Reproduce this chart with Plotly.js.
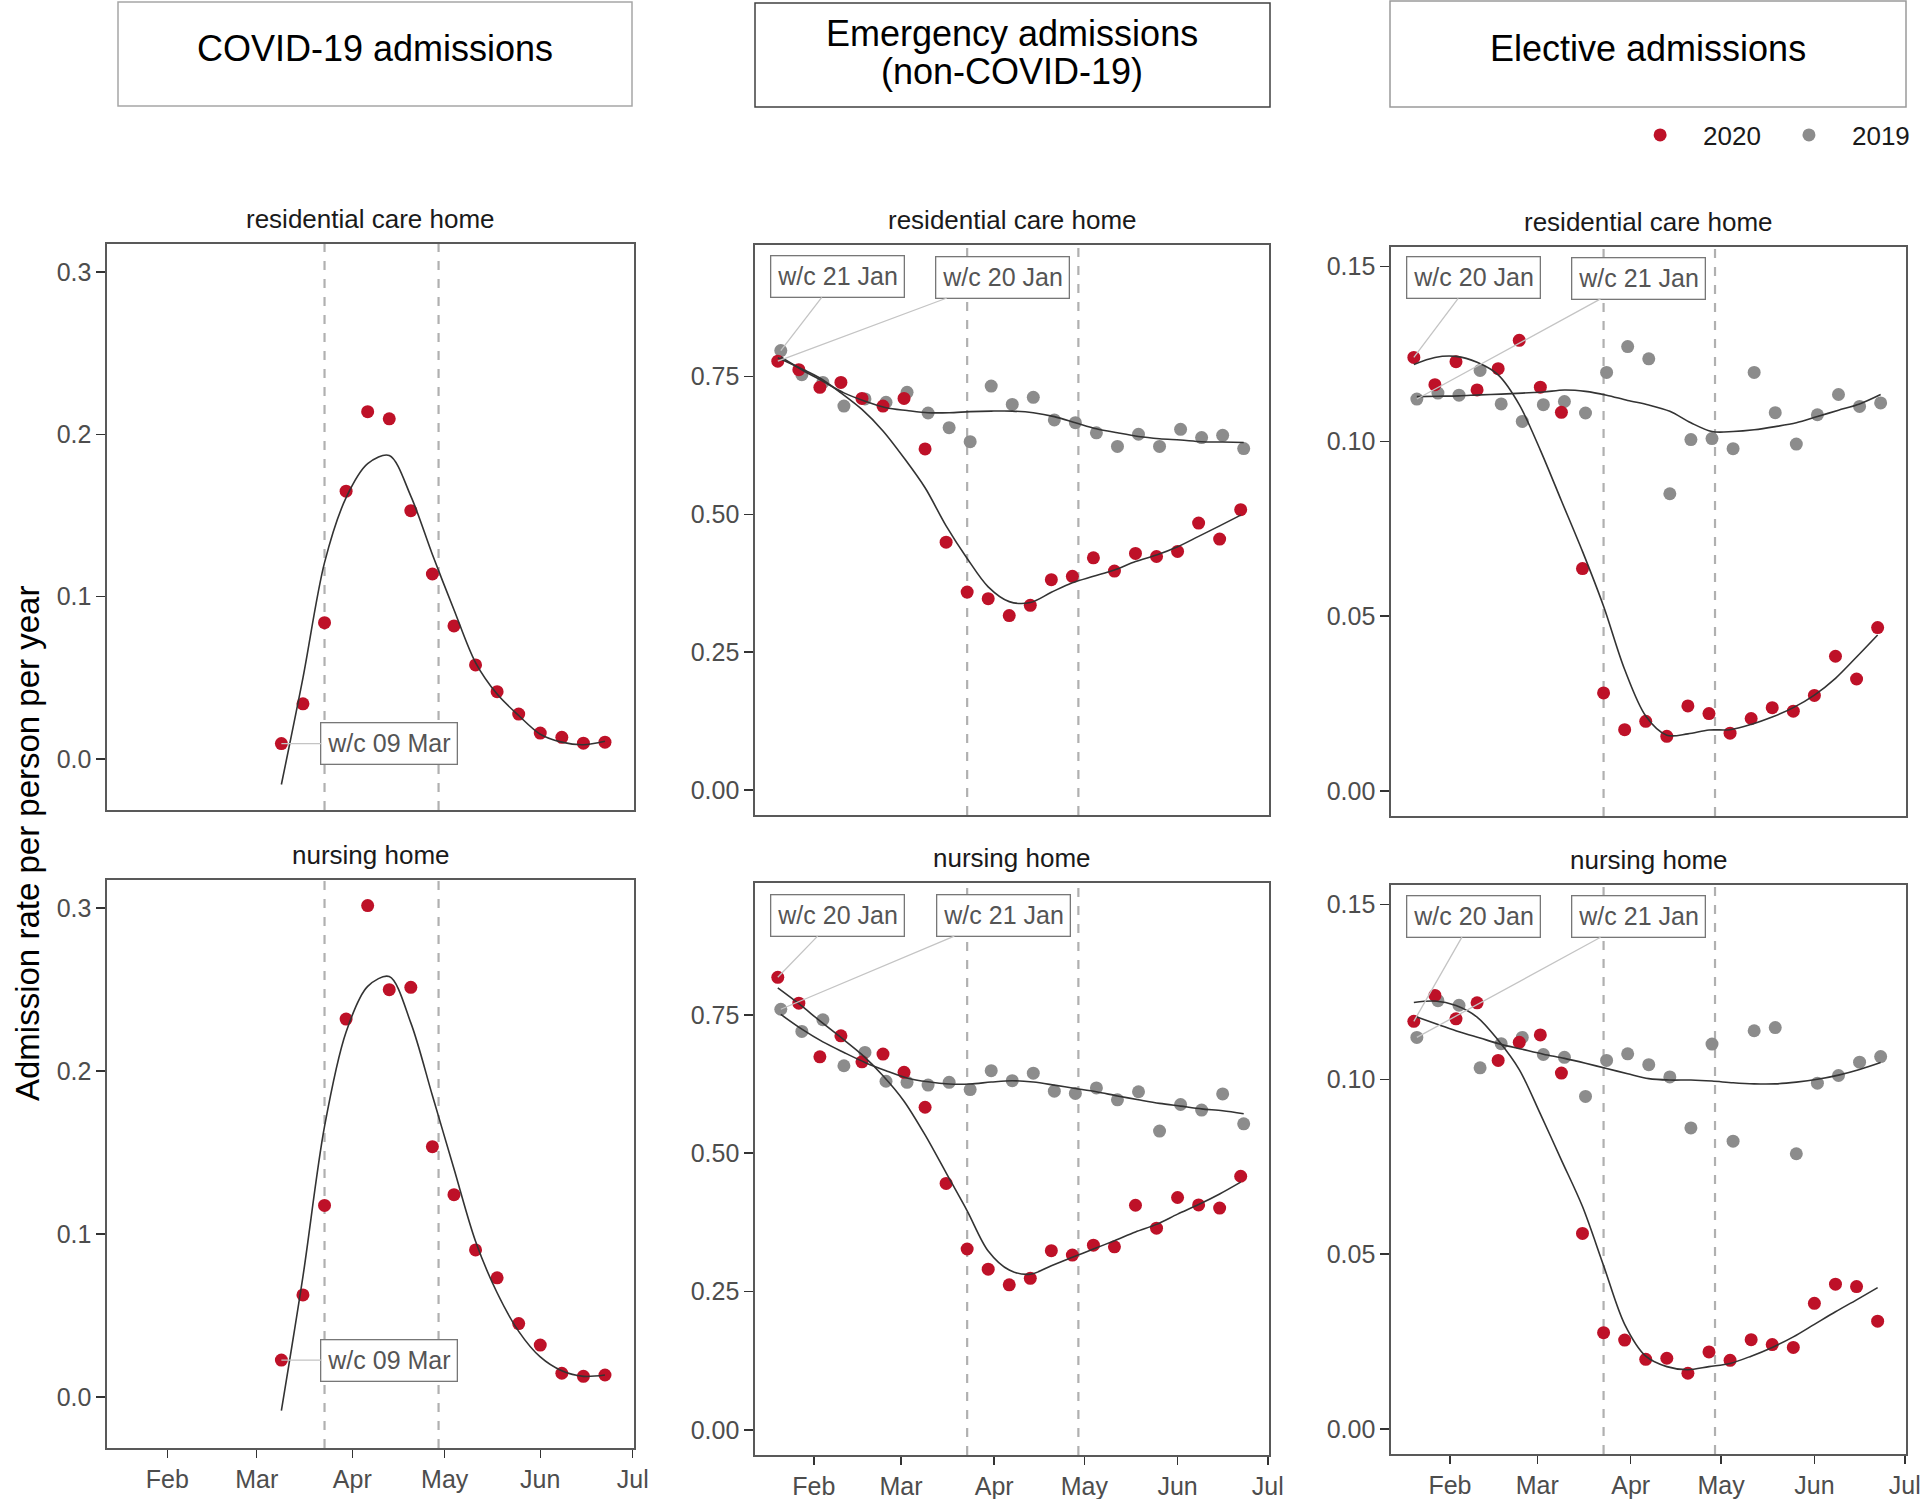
<!DOCTYPE html>
<html>
<head>
<meta charset="utf-8">
<script src="https://cdn.plot.ly/plotly-3.0.1.min.js"></script>
<style>body{margin:0;background:#fff}#chart{width:1924px;height:1499px}</style>
</head>
<body>
<div id="chart"></div>
<script>
// weeks (w/c Monday); 2019 weeks are drawn on the 2020 calendar
var weeks2020 = ['2020-01-20','2020-01-27','2020-02-03','2020-02-10','2020-02-17','2020-02-24','2020-03-02',
  '2020-03-09','2020-03-16','2020-03-23','2020-03-30','2020-04-06','2020-04-13','2020-04-20','2020-04-27',
  '2020-05-04','2020-05-11','2020-05-18','2020-05-25','2020-06-01','2020-06-08','2020-06-15','2020-06-22'];
var weeks2019 = ['2020-01-21','2020-01-28','2020-02-04','2020-02-11','2020-02-18','2020-02-25','2020-03-03',
  '2020-03-10','2020-03-17','2020-03-24','2020-03-31','2020-04-07','2020-04-14','2020-04-21','2020-04-28',
  '2020-05-05','2020-05-12','2020-05-19','2020-05-26','2020-06-02','2020-06-09','2020-06-16','2020-06-23'];
var covidWeeks = ['2020-03-09','2020-03-16','2020-03-23','2020-03-30','2020-04-06','2020-04-13','2020-04-20',
  '2020-04-27','2020-05-04','2020-05-11','2020-05-18','2020-05-25','2020-06-01','2020-06-08','2020-06-15','2020-06-22'];

var monthTicks = ['2020-02-01','2020-03-01','2020-04-01','2020-05-01','2020-06-01','2020-07-01'];
var monthLabels = ['Feb','Mar','Apr','May','Jun','Jul'];
var markerDates = ['2020-03-23','2020-04-29'];

var colTitles = [['COVID-19 admissions'], ['Emergency admissions','(non-COVID-19)'], ['Elective admissions']];
var rowTitles = ['residential care home', 'nursing home'];

// COVID-19 admissions
var covidResid = [0.0095,0.034,0.084,0.165,0.214,0.2096,0.153,0.114,0.082,0.058,0.0415,0.0277,0.016,0.0134,0.0098,0.0104];
var covidResidFit = [-0.0157,0.05,0.121,0.161,0.182,0.187,0.162,0.126,0.092,0.0594,0.040,0.0268,0.0153,0.0104,0.0088,0.011];
var covidNursing = [0.0226,0.0626,0.1175,0.2319,0.3016,0.250,0.2514,0.1536,0.1241,0.0902,0.0731,0.045,0.0318,0.0145,0.0126,0.0134];
var covidNursingFit = [-0.0084,0.074,0.166,0.224,0.252,0.258,0.2296,0.185,0.140,0.0955,0.0639,0.0402,0.0245,0.016,0.0126,0.0134];

// emergency admissions (non-COVID-19)
var emergResid2020 = [0.7775,0.762,0.730,0.739,0.710,0.696,0.710,0.6185,0.4495,0.359,0.347,0.3165,0.335,0.3815,0.3876,0.421,0.397,0.429,0.4235,0.4327,0.484,0.455,0.5084];
var emergResid2019 = [0.7966,0.753,0.739,0.696,0.709,0.703,0.721,0.6835,0.657,0.6315,0.7324,0.699,0.712,0.671,0.666,0.6476,0.623,0.645,0.623,0.654,0.639,0.643,0.619];
var emergResid2020Fit = [0.7836,0.766,0.747,0.720,0.690,0.651,0.602,0.548,0.479,0.42,0.3685,0.3417,0.340,0.3586,0.376,0.3876,0.399,0.4144,0.426,0.441,0.460,0.479,0.4985];
var emergResid2019Fit = [0.785,0.762,0.741,0.720,0.705,0.693,0.688,0.684,0.684,0.686,0.687,0.687,0.684,0.677,0.666,0.655,0.6476,0.641,0.637,0.6346,0.6315,0.631,0.630];
var emergNursing2020 = [0.8177,0.771,0.674,0.712,0.665,0.679,0.646,0.583,0.4455,0.327,0.2906,0.2624,0.274,0.324,0.316,0.334,0.331,0.406,0.3646,0.420,0.4066,0.401,0.4584];
var emergNursing2019 = [0.760,0.720,0.741,0.658,0.682,0.630,0.628,0.623,0.628,0.615,0.649,0.631,0.6445,0.612,0.608,0.618,0.5965,0.611,0.540,0.588,0.578,0.607,0.553];
var emergNursing2020Fit = [0.7986,0.770,0.739,0.709,0.678,0.640,0.594,0.533,0.4645,0.396,0.3234,0.289,0.2815,0.2967,0.312,0.327,0.342,0.3577,0.3715,0.390,0.4073,0.4264,0.4478];
var emergNursing2019Fit = [0.7506,0.724,0.701,0.682,0.664,0.649,0.636,0.629,0.625,0.625,0.6285,0.631,0.6285,0.623,0.617,0.611,0.6034,0.5965,0.590,0.585,0.580,0.5767,0.5713];

// elective admissions
var elecResid2020 = [0.1240,0.1162,0.1228,0.1147,0.1208,0.1289,0.1155,0.1083,0.0636,0.0280,0.0175,0.0199,0.0156,0.0243,0.0221,0.0165,0.0207,0.0238,0.0228,0.0273,0.0385,0.0320,0.0467];
var elecResid2019 = [0.1121,0.1138,0.1132,0.1203,0.1107,0.1057,0.1105,0.1114,0.1081,0.1197,0.1271,0.1236,0.0850,0.1005,0.1008,0.0979,0.1197,0.1082,0.0992,0.1076,0.1134,0.1100,0.1110];
var elecResid2020Fit = [0.122,0.124,0.1243,0.1226,0.119,0.1105,0.0975,0.083,0.0685,0.0528,0.0347,0.0214,0.0159,0.0163,0.0174,0.0175,0.019,0.0211,0.0238,0.0274,0.0322,0.0383,0.0446];
var elecResid2019Fit = [0.1128,0.1129,0.1130,0.1133,0.1135,0.1138,0.1141,0.1147,0.1143,0.1132,0.1117,0.1104,0.1086,0.1053,0.1028,0.1028,0.1033,0.1042,0.1053,0.1071,0.1089,0.1107,0.1134];
var elecNursing2020 = [0.1166,0.1240,0.1173,0.1219,0.1054,0.1106,0.1127,0.1018,0.0559,0.0275,0.0254,0.0199,0.0202,0.0159,0.0220,0.0196,0.0255,0.0241,0.0233,0.0359,0.0414,0.0407,0.0308];
var elecNursing2019 = [0.1120,0.1225,0.1212,0.1033,0.1102,0.1120,0.1071,0.1063,0.0951,0.1054,0.1073,0.1042,0.1007,0.0861,0.1101,0.0823,0.1139,0.1148,0.0787,0.0989,0.1011,0.1049,0.1065];
var elecNursing2020Fit = [0.122,0.1224,0.1211,0.1178,0.1112,0.1028,0.0901,0.0769,0.0636,0.0467,0.0299,0.0208,0.0178,0.0169,0.0178,0.0187,0.0208,0.0233,0.0263,0.0299,0.0335,0.0369,0.0404];
var elecNursing2019Fit = [0.1178,0.1157,0.1136,0.1118,0.1100,0.1086,0.1072,0.1060,0.1046,0.1031,0.1016,0.1002,0.0998,0.0998,0.0995,0.0990,0.0987,0.0987,0.0992,0.1000,0.1012,0.1028,0.1048];

var W = 1924, H = 1499;
var red = '#BE1128', grey = '#8C8C8C';
var font = 'Liberation Sans, Arial, sans-serif';
var xRange = ['2020-01-12 10:00', '2020-07-01 10:00'];
var yRanges = [[-0.0314, 0.3173], [-0.045, 0.988], [-0.0072, 0.1556]];
var yTicks = [{dtick: 0.1, fmt: '.1f'}, {dtick: 0.25, fmt: '.2f'}, {dtick: 0.05, fmt: '.2f'}];

// panel boxes in pixels
var panels = [
  {l: 107, r: 634, t: 244, b: 810, col: 0, row: 0},
  {l: 755, r: 1269, t: 245, b: 815, col: 1, row: 0},
  {l: 1391, r: 1906, t: 247, b: 816, col: 2, row: 0},
  {l: 107, r: 634, t: 880, b: 1448, col: 0, row: 1},
  {l: 755, r: 1269, t: 883, b: 1455, col: 1, row: 1},
  {l: 1391, r: 1906, t: 885, b: 1454, col: 2, row: 1}
];

var series = [
  {red: covidResid, redFit: covidResidFit},
  {red: emergResid2020, redFit: emergResid2020Fit, grey: emergResid2019, greyFit: emergResid2019Fit},
  {red: elecResid2020, redFit: elecResid2020Fit, grey: elecResid2019, greyFit: elecResid2019Fit},
  {red: covidNursing, redFit: covidNursingFit},
  {red: emergNursing2020, redFit: emergNursing2020Fit, grey: emergNursing2019, greyFit: emergNursing2019Fit},
  {red: elecNursing2020, redFit: elecNursing2020Fit, grey: elecNursing2019, greyFit: elecNursing2019Fit}
];

// callout labels: which point, text, offset of the box in pixels
var labels = [
  [{s: 'red', text: 'w/c 09 Mar', ax: 108, ay: 0}],
  [{s: 'grey', text: 'w/c 21 Jan', ax: 57, ay: -74}, {s: 'red', text: 'w/c 20 Jan', ax: 225, ay: -84}],
  [{s: 'red', text: 'w/c 20 Jan', ax: 60, ay: -80}, {s: 'grey', text: 'w/c 21 Jan', ax: 222, ay: -121}],
  [{s: 'red', text: 'w/c 09 Mar', ax: 108, ay: 0}],
  [{s: 'red', text: 'w/c 20 Jan', ax: 60, ay: -62}, {s: 'grey', text: 'w/c 21 Jan', ax: 223, ay: -94}],
  [{s: 'red', text: 'w/c 20 Jan', ax: 60, ay: -105}, {s: 'grey', text: 'w/c 21 Jan', ax: 222, ay: -121}]
];

var traces = [], shapes = [], annotations = [];
var layout = {
  width: W, height: H, margin: {l: 0, r: 0, t: 0, b: 0},
  paper_bgcolor: 'white', plot_bgcolor: 'white',
  font: {family: font, color: '#4d4d4d'},
  showlegend: true,
  legend: {orientation: 'h', x: 0.8405, xanchor: 'left', y: 1 - 135 / H, yanchor: 'middle',
    itemwidth: 76, font: {size: 26, color: '#1a1a1a'}, bgcolor: 'rgba(0,0,0,0)', traceorder: 'normal'}
};

panels.forEach(function(p, i) {
  var id = i === 0 ? '' : String(i + 1);
  var xa = 'x' + id, ya = 'y' + id;
  var bottom = p.row === 1;
  var s = series[i];
  var x1 = p.col === 0 ? covidWeeks : weeks2020;

  layout['xaxis' + id] = {
    domain: [p.l / W, p.r / W], range: xRange, type: 'date', anchor: ya,
    showline: true, mirror: true, linecolor: '#595959', linewidth: 1.6,
    showgrid: false, zeroline: false,
    ticks: bottom ? 'outside' : '', ticklen: 8, tickwidth: 1.5, tickcolor: '#333',
    showticklabels: bottom, tickvals: monthTicks, ticktext: monthLabels,
    tickfont: {size: 25, color: '#4d4d4d'}
  };
  layout['yaxis' + id] = {
    domain: [1 - p.b / H, 1 - p.t / H], range: yRanges[p.col], anchor: xa,
    showline: true, mirror: true, linecolor: '#595959', linewidth: 1.6,
    showgrid: false, zeroline: false,
    ticks: 'outside', ticklen: 9, tickwidth: 1.5, tickcolor: '#333',
    tick0: 0, dtick: yTicks[p.col].dtick, tickformat: yTicks[p.col].fmt,
    tickfont: {size: 25, color: '#4d4d4d'}
  };

  if (s.grey) {
    traces.push({x: weeks2019, y: s.grey, xaxis: xa, yaxis: ya, type: 'scatter', mode: 'markers',
      name: '2019', legendrank: 2, showlegend: i === 1,
      marker: {color: grey, size: 13}});
  }
  traces.push({x: x1, y: s.red, xaxis: xa, yaxis: ya, type: 'scatter', mode: 'markers',
    name: '2020', legendrank: 1, showlegend: i === 1,
    marker: {color: red, size: 13}});
  if (s.greyFit) {
    traces.push({x: weeks2019, y: s.greyFit, xaxis: xa, yaxis: ya, type: 'scatter', mode: 'lines',
      showlegend: false, line: {color: '#333', width: 1.6, shape: 'spline', smoothing: 0.9}});
  }
  traces.push({x: x1, y: s.redFit, xaxis: xa, yaxis: ya, type: 'scatter', mode: 'lines',
    showlegend: false, line: {color: '#333', width: 1.6, shape: 'spline', smoothing: 0.9}});

  markerDates.forEach(function(d) {
    shapes.push({type: 'line', xref: xa, yref: ya + ' domain', x0: d, x1: d, y0: 0, y1: 1,
      line: {color: '#b0b0b0', width: 2.2, dash: 'dash'}, layer: 'below'});
  });

  annotations.push({xref: 'paper', yref: 'paper', x: (p.l + p.r) / 2 / W, y: 1 - (p.t - 25) / H,
    text: rowTitles[p.row], showarrow: false, xanchor: 'center', yanchor: 'middle',
    font: {size: 26, color: '#1a1a1a'}});

  labels[i].forEach(function(lb) {
    var isRed = lb.s === 'red';
    annotations.push({xref: xa, yref: ya, x: isRed ? x1[0] : weeks2019[0], y: isRed ? s.red[0] : s.grey[0],
      text: lb.text, showarrow: true, arrowhead: 0, arrowwidth: 1.3, arrowcolor: '#c4c4c4',
      axref: 'pixel', ayref: 'pixel', ax: lb.ax, ay: lb.ay, standoff: 0,
      bgcolor: 'white', bordercolor: '#777', borderwidth: 1.3, borderpad: 6,
      font: {size: 25, color: '#555'}});
  });
});

// column header boxes
var heads = [
  {l: 118, r: 632, t: 2, b: 106, color: '#a6a6a6', ys: [49]},
  {l: 755, r: 1270, t: 3, b: 107, color: '#404040', ys: [33, 72]},
  {l: 1390, r: 1906, t: 1, b: 107, color: '#9a9a9a', ys: [48]}
];
heads.forEach(function(h, c) {
  shapes.push({type: 'rect', xref: 'paper', yref: 'paper', x0: h.l / W, x1: h.r / W,
    y0: 1 - h.b / H, y1: 1 - h.t / H, line: {color: h.color, width: 1.5}, fillcolor: 'white', layer: 'below'});
  colTitles[c].forEach(function(t, k) {
    annotations.push({xref: 'paper', yref: 'paper', x: (h.l + h.r) / 2 / W, y: 1 - h.ys[k] / H,
      text: t, showarrow: false, xanchor: 'center', yanchor: 'middle',
      font: {size: 36, color: '#000'}});
  });
});

annotations.push({xref: 'paper', yref: 'paper', x: 27 / W, y: 1 - 844 / H, textangle: -90,
  text: 'Admission rate per person per year', showarrow: false, xanchor: 'center', yanchor: 'middle',
  font: {size: 33, color: '#000'}});

layout.shapes = shapes;
layout.annotations = annotations;

Plotly.newPlot('chart', traces, layout, {staticPlot: true});
</script>
</body>
</html>
